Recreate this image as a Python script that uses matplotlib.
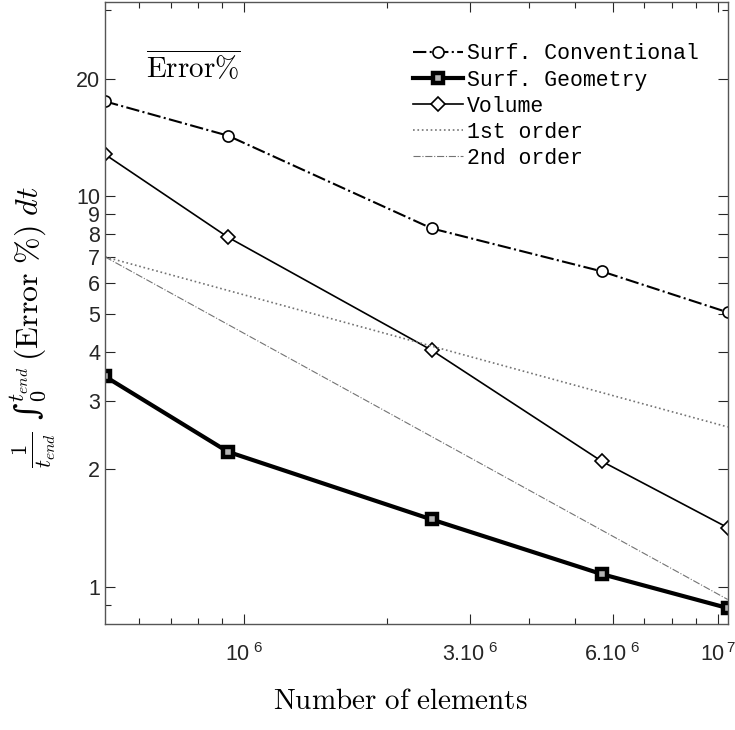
import numpy as np
import matplotlib
matplotlib.use("Agg")
import matplotlib.pyplot as plt

plt.rcParams['mathtext.fontset'] = 'cm'
plt.rcParams['font.family'] = ['Liberation Sans', 'DejaVu Sans']

# number of elements
n_elems = [5.09e5, 9.25e5, 2.49e6, 5.69e6, 1.05e7]

surf_conv = [17.5, 14.3, 8.28, 6.43, 5.05]
surf_geom = [3.46, 2.22, 1.49, 1.08, 0.884]
volume = [12.8, 7.86, 4.04, 2.10, 1.42]

# reference slopes (end points)
order_x = [5.09e5, 1.05e7]
order1 = [7.0, 2.57]
order2 = [7.0, 0.93]

xticks = [1e6, 3e6, 6e6, 1e7]
xticklabels = [r'$\mathregular{10^{\ 6}}$', r'$\mathregular{3.10^{\ 6}}$',
               r'$\mathregular{6.10^{\ 6}}$', r'$\mathregular{10^{\,7}}$']
yticks = [1, 2, 3, 4, 5, 6, 7, 8, 9, 10, 20]

fig = plt.figure(figsize=(7.35, 7.3), dpi=100)
ax = fig.add_axes([0.143, 0.145, 0.847, 0.852])

ax.plot(n_elems, surf_conv, color='k', ls='-.', lw=1.5, marker='o', ms=8,
        mfc='white', mec='k', mew=1.2, label='Surf. Conventional')
ax.plot(n_elems, surf_geom, color='k', ls='-', lw=3.0, marker='s', ms=7,
        mfc='0.7', mec='k', mew=3.2, label='Surf. Geometry')
ax.plot(n_elems, volume, color='k', ls='-', lw=1.2, marker='D', ms=7,
        mfc='white', mec='k', mew=1.2, label='Volume')
ax.plot(order_x, order1, color='0.45', ls=':', lw=1.2, label='1st order')
ax.plot(order_x, order2, color='0.45', ls='-.', lw=0.8, label='2nd order')

ax.set_xscale('log')
ax.set_yscale('log')
ax.set_xlim(5.09e5, 1.05e7)
ax.set_ylim(0.804, 31.4)

ax.set_xticks(xticks)
ax.set_xticklabels(xticklabels)
ax.set_yticks(yticks)
ax.set_yticklabels([str(v) for v in yticks])
ax.yaxis.set_minor_formatter(matplotlib.ticker.NullFormatter())
ax.xaxis.set_minor_formatter(matplotlib.ticker.NullFormatter())
ax.tick_params(which='both', direction='in', top=True, right=True,
               labelsize=15.5, colors='#262626', width=0.8)
ax.tick_params(which='major', length=7)
ax.tick_params(which='minor', length=4)
ax.tick_params(axis='x', pad=14)
for s in ax.spines.values():
    s.set_color('#555555')
    s.set_linewidth(1.0)

ax.set_xlabel(r'$\mathrm{Number\ of\ elements}$', fontsize=21)
ax.xaxis.set_label_coords(0.475, -0.101)
ax.set_ylabel(r'$\frac{1}{t_{end}}$ ∫$_0^{t_{end}}$$\,(\mathrm{Error}\ \%)\ dt$',
              fontsize=23, family='DejaVu Serif')
ax.yaxis.set_label_coords(-0.075, 0.478)

ax.text(0.065, 0.895, r'$\overline{\mathrm{Error\%}}$', transform=ax.transAxes,
        fontsize=21, va='center', ha='left')

leg = ax.legend(loc='upper right', bbox_to_anchor=(0.985, 0.965), frameon=False,
                prop={'family': 'Liberation Mono', 'size': 15.5},
                handlelength=2.3, handletextpad=0.2, labelspacing=0.24)

fig.savefig('out.png', dpi=100)
